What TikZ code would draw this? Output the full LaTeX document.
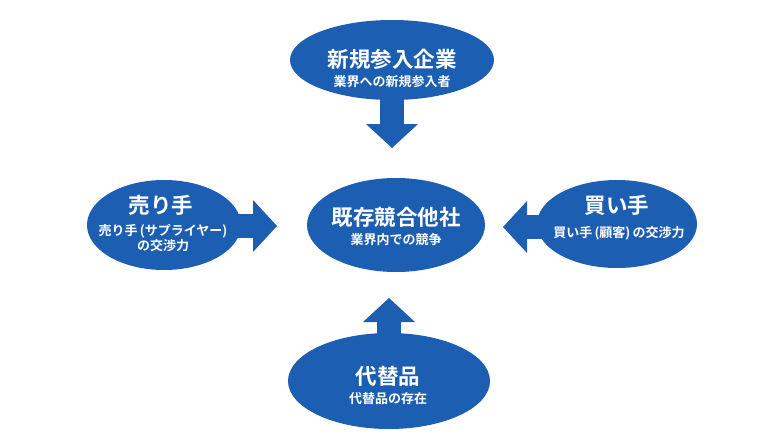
\documentclass[tikz,border=0pt]{standalone}
\usepackage{fontspec}
\setmainfont{Noto Sans CJK JP}[BoldFont={Noto Sans CJK JP Bold}]
\usetikzlibrary{shapes.geometric,arrows.meta}
\definecolor{pblue}{RGB}{28,94,178}
\begin{document}
\begin{tikzpicture}[x=1pt,y=-1pt,
  force/.style={ellipse,fill=pblue,draw=none,inner sep=0pt},
  ttl/.style={text=white,font=\fontsize{21.5}{22}\selectfont\bfseries,inner sep=0pt,anchor=center},
  sub/.style={text=white,font=\fontsize{13}{14}\selectfont\bfseries,inner sep=0pt,anchor=center},
  arr/.style={draw=pblue,line width=24pt,-{Triangle[width=52pt,length=24pt,line width=0pt]}}]
\useasboundingbox (0,0) rectangle (777,439);
% coordinates for arrow tips
\coordinate (tipT) at (392,148);
\coordinate (tipB) at (389,298);
\coordinate (tipL) at (277,226);
\coordinate (tipR) at (503,227);
% ellipse nodes
\node[force,minimum width=204pt,minimum height=80pt] (top) at (392,60) {};
\node[force,minimum width=178pt,minimum height=94pt] (mid) at (396,225) {};
\node[force,minimum width=154pt,minimum height=90pt] (left) at (164,225) {};
\node[force,minimum width=160pt,minimum height=88pt] (right) at (617,224) {};
\node[force,minimum width=202pt,minimum height=96pt] (bot) at (389,381) {};
% arrows
\draw[arr] (top.center |- 0,95) -- (tipT);
\draw[arr] (bot.center |- 0,340) -- (tipB);
\draw[arr] (left.center |- 0,226) ++(65,0) -- (tipL);
\draw[arr] (right.center |- 0,227) ++(-70,0) -- (tipR);
% texts
\node[ttl] (topT) at (392,59) {新規参入企業};
\node[sub] (topS) at (392,82) {業界への新規参入者};
\node[ttl] (midT) at (396,217) {既存競合他社};
\node[sub] (midS) at (396,240) {業界内での競争};
\node[ttl] (leftT) at (161,205) {売り手};
\node[sub] (leftS1) at (163,231) {売り手\,(サプライヤー)};
\node[sub] (leftS2) at (163,246) {の交渉力};
\node[ttl] (rightT) at (617,205) {買い手};
\node[sub] (rightS) at (619,233) {買い手\,(顧客)\,の交渉力};
\node[ttl] (botT) at (388,376) {代替品};
\node[sub] (botS) at (388,399) {代替品の存在};
\end{tikzpicture}
\end{document}
